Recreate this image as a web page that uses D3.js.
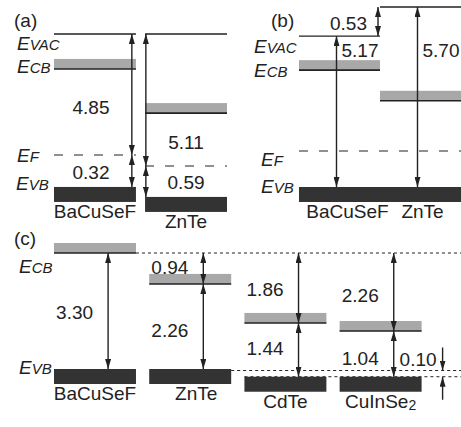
<!DOCTYPE html>
<html><head><meta charset="utf-8">
<script src="https://cdn.jsdelivr.net/npm/d3@7"></script>
<style>
body{margin:0;background:#fff}
svg{display:block}
text{font-family:"Liberation Sans",Arial,Helvetica,sans-serif;fill:#222}
</style>
</head><body><svg id="chart" width="461" height="427"></svg>
<script>
// ---------- DATA (energies in eV as drawn in the schematic) ----------
// Panel (a): vacuum level aligned
const aMaterials = ["BaCuSeF", "ZnTe"];
const aVac = [0, 0];
const aCB = [-1.40, -3.17];
const aEF = [-4.85, -5.29];
const aVB = [-6.13, -6.53];
const aVacToEF = ["4.85", "5.11"];
const aEFtoVB = ["0.32", "0.59"];

// Panel (b): Fermi level aligned
const bMaterials = ["BaCuSeF", "ZnTe"];
const bVac = [-0.92, 0];
const bCB = [-2.00, -2.97];
const bEF = -4.56;
const bVB = [-5.70, -5.70];
const bVacToVB = ["5.17", "5.70"];
const bVacOffset = "0.53";

// Panel (c): band offsets
const cMaterials = ["BaCuSeF", "ZnTe", "CdTe", "CuInSe2"];
const cCB = [0, -0.88, -1.99, -2.22];
const cVB = [-3.30, -3.30, -3.52, -3.52];
const cCBoffset = [null, "0.94", "1.86", "2.26"];
const cGap = ["3.30", "2.26", "1.44", "1.04"];
const cVBoffset = "0.10";

// ---------- STYLE / LAYOUT ----------
const GRAY = "#a8a8a8", DARK = "#333", INK = "#222";
const CB_H = 10, VB_H = 15, NUM_FS = 19, MAT_FS = 19;

const svg = d3.select("#chart");
const defs = svg.append("defs");
defs.append("marker").attr("id", "ah")
  .attr("viewBox", "0 0 10 6").attr("refX", 10).attr("refY", 3)
  .attr("markerWidth", 10).attr("markerHeight", 6)
  .attr("markerUnits", "userSpaceOnUse").attr("orient", "auto-start-reverse")
  .append("path").attr("d", "M0,0 L10,3 L0,6 Z").attr("fill", INK);

function arrow(x, y1, y2, both = true) {
  const l = svg.append("line").attr("x1", x).attr("x2", x).attr("y1", y1).attr("y2", y2)
    .attr("stroke", INK).attr("stroke-width", 1.4).attr("marker-end", "url(#ah)");
  if (both) l.attr("marker-start", "url(#ah)");
}
function hline(x1, x2, y, dash, w = 1.3) {
  const l = svg.append("line").attr("x1", x1).attr("x2", x2).attr("y1", y).attr("y2", y)
    .attr("stroke", INK).attr("stroke-width", w);
  if (dash) l.attr("stroke-dasharray", dash);
}
function cbBand(x, w, y) {
  svg.append("rect").attr("x", x).attr("y", y - CB_H).attr("width", w).attr("height", CB_H).attr("fill", GRAY);
  hline(x, x + w, y, null, 1.6);
}
function vbBar(x, w, y) {
  svg.append("rect").attr("x", x).attr("y", y).attr("width", w).attr("height", VB_H).attr("fill", DARK);
}
function num(x, y, t, anchor = "middle") {
  svg.append("text").attr("x", x).attr("y", y).attr("text-anchor", anchor)
    .attr("font-size", NUM_FS).text(t);
}
function mat(x, y, t) {
  const tx = svg.append("text").attr("x", x).attr("y", y).attr("text-anchor", "middle").attr("font-size", MAT_FS);
  const m = t.match(/^(.*?)(\d+)$/);
  if (m) { tx.append("tspan").text(m[1]); tx.append("tspan").attr("font-size", 14).attr("dy", 2).text(m[2]); }
  else tx.text(t);
}
function elabel(x, y, sub) {
  const tx = svg.append("text").attr("x", x).attr("y", y).attr("font-style", "italic");
  tx.append("tspan").attr("font-size", 19).text("E");
  tx.append("tspan").attr("font-size", 15).text(sub);
}
function plabel(x, y, t) { svg.append("text").attr("x", x).attr("y", y).attr("font-size", 19).text(t); }

// ---------- PANEL (a) ----------
{
  const y = d3.scaleLinear().domain([0, -6.6]).range([34, 34 + 6.6 * 24.95]);
  const x = d3.scaleBand().domain(aMaterials).range([54, 227]).paddingInner(0.1);
  const bw = x.bandwidth();
  const arrowFrac = [0.95, 0.01];
  const tTop = [0.66, 0.87], tBot = [0.75, 0.74];
  plabel(14, 27, "(a)");
  aMaterials.forEach((m, i) => {
    const x0 = x(m), ax = x0 + bw * arrowFrac[i];
    hline(x0, x0 + bw, y(aVac[i]));
    cbBand(x0, bw, y(aCB[i]));
    hline(x0, x0 + bw, y(aEF[i]), "9,11", 1.2);
    vbBar(x0, bw, y(aVB[i]));
    arrow(ax, y(aVac[i]), y(aEF[i]));
    arrow(ax, y(aEF[i]), y(aVB[i]));
    const cx = x0 + bw / 2 - (i === 0 ? 4 : 0);
    num(cx, y(aVac[i]) + (y(aEF[i]) - y(aVac[i])) * tTop[i], aVacToEF[i]);
    num(cx, y(aEF[i]) + (y(aVB[i]) - y(aEF[i])) * tBot[i], aEFtoVB[i]);
    mat(x0 + bw / 2, y(aVB[i]) + VB_H + 16, m);
  });
  elabel(17, y(aVac[0]) + 16, "VAC");
  elabel(17, y(aCB[0]) + 4, "CB");
  elabel(17, y(aEF[0]) + 7, "F");
  elabel(16, y(aVB[0]) + 3, "VB");
}

// ---------- PANEL (b) ----------
{
  const y = d3.scaleLinear().domain([0, -5.70]).range([7, 187]);
  const x = d3.scaleBand().domain(bMaterials).range([299, 461]).paddingInner(0);
  const bw = x.bandwidth();
  plabel(271, 27, "(b)");
  hline(x(bMaterials[0]), 461, y(bEF), "9,11", 1.2);
  const tLab = [0.14, 0.28];
  bMaterials.forEach((m, i) => {
    const x0 = x(m), ax = x0 + bw / 2 - 3;
    hline(x0, x0 + bw, y(bVac[i]));
    cbBand(x0, bw, y(bCB[i]));
    vbBar(x0, bw, y(bVB[i]));
    arrow(ax, y(bVac[i]), y(bVB[i]));
    num(ax + 5, y(bVac[i]) + (y(bVB[i]) - y(bVac[i])) * tLab[i], bVacToVB[i], "start");
    mat(x0 + bw / 2 + (i === 0 ? 8 : 2), y(bVB[i]) + VB_H + 16, m);
  });
  const ox = x(bMaterials[0]) + bw - 2;
  arrow(ox, y(bVac[1]), y(bVac[0]));
  num(ox - 11, y(bVac[1]) + (y(bVac[0]) - y(bVac[1])) * 0.8, bVacOffset, "end");
  elabel(254, y(bVac[0]) + 17, "VAC");
  elabel(254, y(bCB[0]) + 7, "CB");
  elabel(261, y(bEF) + 15, "F");
  elabel(261, y(bVB[0]) + 6, "VB");
}

// ---------- PANEL (c) ----------
{
  const y = d3.scaleLinear().domain([0, -3.30]).range([253, 369]);
  const x = d3.scaleBand().domain(cMaterials).range([54, 421.6]).paddingInner(0.139);
  const bw = x.bandwidth();
  plabel(14, 245, "(c)");
  hline(x(cMaterials[0]) + bw, 461, y(cCB[0]), "3,3", 1);
  hline(x(cMaterials[1]) + bw, 461, y(cVB[0]) + 1.5, "3,3", 1);
  hline(x(cMaterials[2]), 461, y(cVB[2]), "3,3", 1);
  const tA = [null, 0.68, 0.61, 0.63], tB = [0.57, 0.62, 0.59, 0.74];
  cMaterials.forEach((m, i) => {
    const x0 = x(m), ax = x0 + bw * 0.66;
    cbBand(x0, bw, y(cCB[i]));
    vbBar(x0, bw, y(cVB[i]));
    if (i > 0) {
      arrow(ax, y(cCB[0]), y(cCB[i]));
      num(ax - 15, y(cCB[0]) + (y(cCB[i]) - y(cCB[0])) * tA[i], cCBoffset[i], "end");
    }
    arrow(ax, y(cCB[i]), y(cVB[i]));
    num(ax - 15, y(cCB[i]) + (y(cVB[i]) - y(cCB[i])) * tB[i], cGap[i], "end");
    mat(x0 + bw / 2 + (i === 1 ? 6 : 0), y(cVB[i]) + VB_H + 16, m);
  });
  const rx = x(cMaterials[3]) + bw + 21;
  const yu = y(cVB[0]) + 1.5, yl = y(cVB[2]);
  arrow(rx, yu - 23, yu, false);
  arrow(rx, yl + 23, yl, false);
  num(rx - 6, yu - 5, cVBoffset, "end");
  elabel(19, y(cCB[0]) + 20, "CB");
  elabel(19, y(cVB[0]) + 5, "VB");
}
</script></body></html>
